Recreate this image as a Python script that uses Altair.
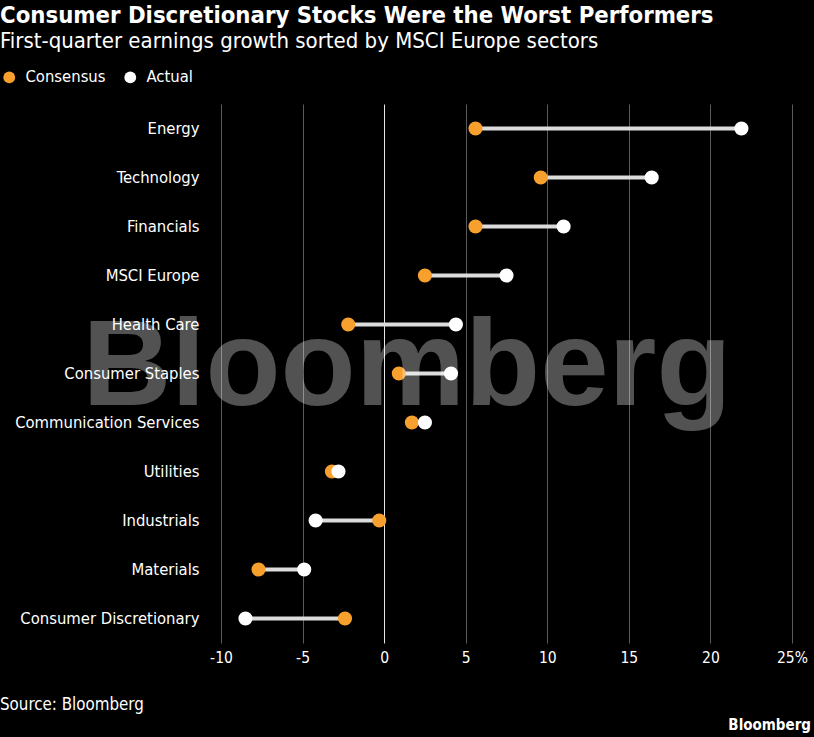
import altair as alt
import pandas as pd

# ---- data ----
sectors = ["Energy", "Technology", "Financials", "MSCI Europe", "Health Care",
           "Consumer Staples", "Communication Services", "Utilities",
           "Industrials", "Materials", "Consumer Discretionary"]
consensus = [5.6, 9.6, 5.6, 2.5, -2.2, 0.9, 1.7, -3.2, -0.3, -7.7, -2.4]
actual = [21.9, 16.4, 11.0, 7.5, 4.4, 4.1, 2.5, -2.8, -4.2, -4.9, -8.5]
x_ticks = [-10, -5, 0, 5, 10, 15, 20, 25]
series = ["Consensus", "Actual"]
series_colors = ["#f7a02d", "#ffffff"]

wide = pd.DataFrame({"sector": sectors, "Consensus": consensus, "Actual": actual})
long = wide.melt(id_vars="sector", var_name="series", value_name="value")

FONT = "DejaVu Sans Condensed"
W, H = 571, 539
PL, PT, PR, PB = 221, 104, 22, 94

x_scale = alt.Scale(domain=[-10, 25], nice=False, zero=False)
x_axis = alt.Axis(
    values=x_ticks,
    labelExpr="datum.value == 25 ? '25%' : datum.value + ''",
    labelFont=FONT, labelFontSize=15.5, labelColor="#ffffff",
    labelPadding=7, labelFlush=False, labelBound=False,
    domain=False, ticks=False, grid=True,
    gridColor=alt.condition("datum.value === 0", alt.value("#e6e6e6"), alt.value("#5a5a5a")),
    gridWidth=1, title=None,
)
y_enc = alt.Y(
    "sector:N", sort=sectors, title=None,
    axis=alt.Axis(labelFont=FONT, labelFontSize=16.5, labelColor="#ffffff",
                  labelPadding=22, labelLimit=300, domain=False, ticks=False,
                  grid=False),
)

rules = alt.Chart(wide).mark_rule(color="#dcdcdc", strokeWidth=4).encode(
    x=alt.X("Consensus:Q", scale=x_scale, axis=x_axis),
    x2="Actual:Q",
    y=y_enc,
)

points = alt.Chart(long).mark_circle(size=200, opacity=1).encode(
    x=alt.X("value:Q", scale=x_scale, axis=x_axis),
    y=y_enc,
    color=alt.Color(
        "series:N",
        scale=alt.Scale(domain=series, range=series_colors),
        legend=alt.Legend(
            orient="none", direction="horizontal", title=None,
            legendX=-PL + 1, legendY=76 - PT - 7,
            symbolType="circle", symbolSize=140, symbolStrokeWidth=0,
            labelFont=FONT, labelFontSize=16.5, labelColor="#ffffff",
            labelOffset=8, columnPadding=16, padding=0,
        ),
    ),
)

one = alt.Data(values=[{}])


def txt(text, x, y, size, weight="normal", align="left", font=FONT,
        color="#ffffff", opacity=1.0):
    return alt.Chart(one).mark_text(
        text=text, align=align, baseline="alphabetic", font=font,
        fontSize=size, fontWeight=weight, color=color, opacity=opacity,
    ).encode(x=alt.value(x), y=alt.value(y))


watermark = txt("Bloomberg", 407 - PL, 405 - PT, 123, weight="bold",
                align="center", font="Liberation Sans", opacity=0.32)
title = txt("Consumer Discretionary Stocks Were the Worst Performers",
            -PL, 23 - PT, 23.7, weight="bold")
subtitle = txt("First-quarter earnings growth sorted by MSCI Europe sectors",
               -PL, 48 - PT, 22)
source = txt("Source: Bloomberg", -PL, 710 - PT, 16.8)
brand = txt("Bloomberg", 811 - PL, 730 - PT, 15, weight="bold", align="right")

chart = alt.layer(rules, points, watermark, title, subtitle, source, brand).properties(
    width=W, height=H,
    background="#000000",
    autosize=alt.AutoSizeParams(type="none"),
    padding={"left": PL, "top": PT, "right": PR, "bottom": PB},
).configure_view(stroke=None)

chart.save("out.html", embed_options={"renderer": "svg", "actions": False})
